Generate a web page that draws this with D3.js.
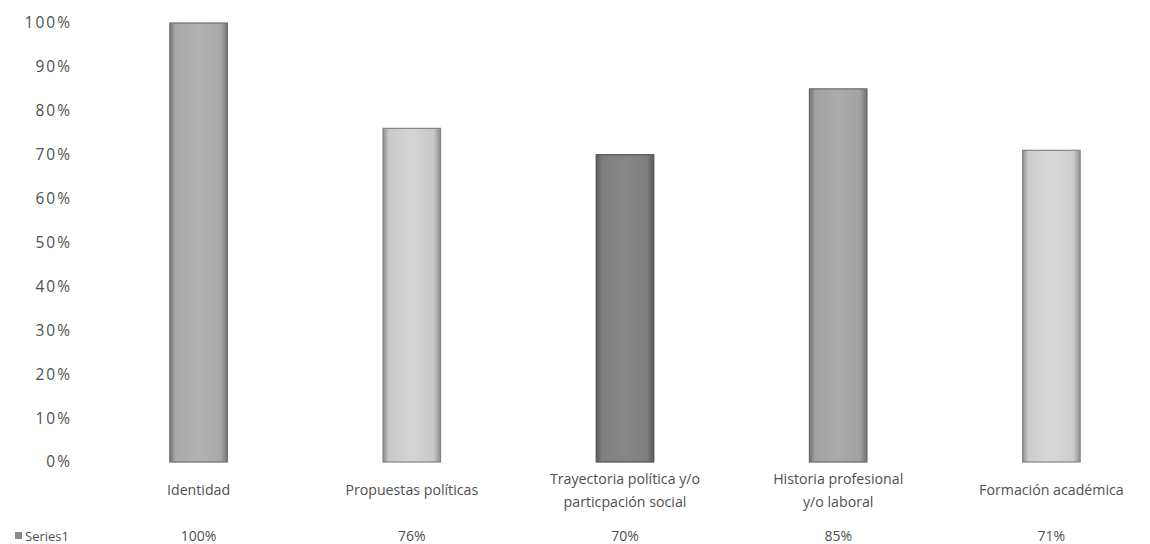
<!DOCTYPE html>
<html><head><meta charset="utf-8">
<script src="https://cdn.jsdelivr.net/npm/d3@7"></script>
<style>body{margin:0;background:#fff}svg{display:block}text{font-family:"Open Sans",sans-serif;fill:#4f4f4f}</style>
</head><body>
<svg id="c" width="1150" height="544"></svg>
<script>
const categories = [["Identidad"],["Propuestas políticas"],["Trayectoria política y/o","particpación social"],["Historia profesional","y/o laboral"],["Formación académica"]];
const values = [1.00, 0.76, 0.70, 0.85, 0.71];
const valueLabels = ["100%","76%","70%","85%","71%"];
const barColors = ["#a9a9a9","#c9c9c9","#7f7f7f","#a2a2a2","#cdcdcd"];
const yTicks = [0,0.1,0.2,0.3,0.4,0.5,0.6,0.7,0.8,0.9,1.0];
const seriesName = "Series1";

const svg = d3.select("#c");
const keys = categories.map((c,i)=>i);
const x = d3.scaleBand().domain(keys).range([92,1158]).paddingInner(0.73).paddingOuter(0.365);
const y = d3.scaleLinear().domain([0,1]).range([462,23]);

const defs = svg.append("defs");
barColors.forEach((c,i)=>{
  const g = defs.append("linearGradient").attr("id","g"+i).attr("x1","0").attr("x2","1").attr("y1","0").attr("y2","0");
  const dark = d3.color(c).darker(1.0), light = d3.color(c).brighter(0.15);
  g.append("stop").attr("offset","0").attr("stop-color",dark);
  g.append("stop").attr("offset","0.1").attr("stop-color",c);
  g.append("stop").attr("offset","0.5").attr("stop-color",light);
  g.append("stop").attr("offset","0.88").attr("stop-color",c);
  g.append("stop").attr("offset","1").attr("stop-color",dark);
});

const yAxis = d3.axisLeft(y).tickValues(yTicks).tickFormat(d3.format(".0%")).tickSize(0).tickPadding(0);
const ya = svg.append("g").attr("transform","translate(72,0)").call(yAxis);
ya.select(".domain").remove();
ya.selectAll("text").style("font-size","15.5px").style("letter-spacing","2px").attr("fill","#4f4f4f").attr("font-family",null);

svg.selectAll("rect.bar").data(values).join("rect").attr("class","bar")
  .attr("x",(d,i)=>x(i)).attr("width",x.bandwidth())
  .attr("y",d=>y(d)).attr("height",d=>y(0)-y(d))
  .attr("fill",(d,i)=>`url(#g${i})`)
  .attr("stroke",(d,i)=>d3.color(barColors[i]).darker(1.2)).attr("stroke-width",1.2);

const lab = svg.selectAll("text.cat").data(categories).join("text").attr("class","cat")
  .attr("text-anchor","middle").style("font-size","14.2px")
  .attr("x",(d,i)=>x(i)+x.bandwidth()/2)
  .attr("y",d=> d.length===1 ? 495 : 484);
lab.selectAll("tspan").data(d=>d).join("tspan")
  .attr("x",function(){return d3.select(this.parentNode).attr("x");})
  .attr("dy",(d,j)=>j===0?0:23).text(d=>d);

svg.selectAll("text.val").data(valueLabels).join("text").attr("class","val")
  .attr("text-anchor","middle").style("font-size","14px")
  .attr("x",(d,i)=>x(i)+x.bandwidth()/2).attr("y",541).text(d=>d);

svg.append("rect").attr("x",15).attr("y",532).attr("width",7).attr("height",7).attr("fill","#8a8a8a");
svg.append("text").attr("x",25).attr("y",541).style("font-size","13px").text(seriesName);
</script>
</body></html>
